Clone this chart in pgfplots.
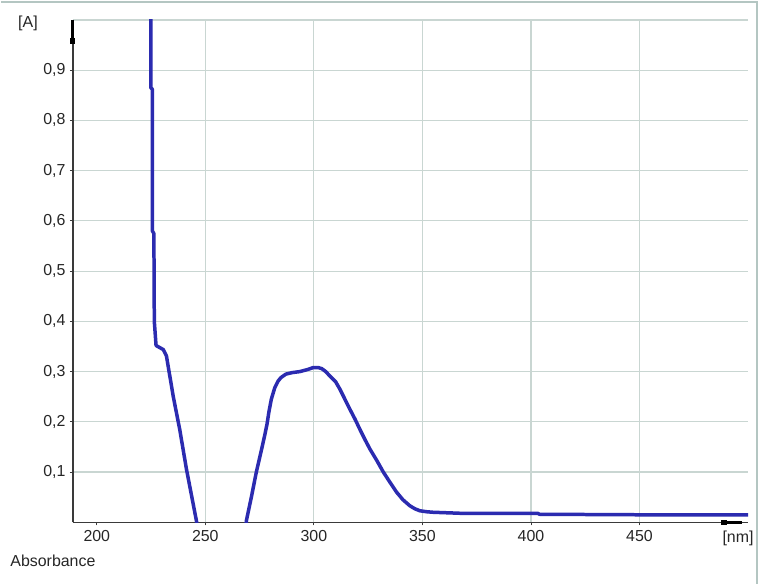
\documentclass[border=0pt]{standalone}
\usepackage{pgfplots}
\pgfplotsset{compat=1.18}
\usepackage{fontspec}
\setmainfont{Liberation Sans}
\usetikzlibrary{arrows.meta}
\definecolor{gridc}{HTML}{C9D6D2}
\definecolor{curve}{HTML}{2B2BB0}
\definecolor{framec}{HTML}{B4C6C2}
\definecolor{axc}{HTML}{3A3A3A}
\begin{document}
\begin{tikzpicture}[x=1bp,y=1bp]
\path (0,0) rectangle (761,585);
\fill[white] (0,0) rectangle (761,585);
\draw[framec, line width=2bp] (0,583) -- (757,583) -- (757,0);
\begin{axis}[
  at={(72bp,62bp)}, anchor=origin,
  scale only axis, width=676bp, height=503bp,
  xmin=189, xmax=500, ymin=0, ymax=1.0,
  axis lines=left,
  axis line style={axc, line width=1.4bp, -},
  xtick={200,250,300,350,400,450},
  ytick={0.1,0.2,0.3,0.4,0.5,0.6,0.7,0.8,0.9},
  yticklabels={{0,1},{0,2},{0,3},{0,4},{0,5},{0,6},{0,7},{0,8},{0,9}},
  extra x ticks={250,300,350,400,450},
  extra x tick labels={},
  extra x tick style={xmajorgrids=true, major tick length=0pt},
  extra y ticks={1.0},
  extra y tick labels={},
  extra y tick style={ymajorgrids=true, major tick length=0pt},
  ymajorgrids=true,
  major grid style={gridc, line width=1.2bp},
  tick style={axc, line width=0.8bp},
  tick align=outside, major tick length=3bp,
  /pgf/number format/assume math mode=true,
  ticklabel style={font=\fontsize{16}{19}\selectfont, text=black!85},
  yticklabel style={xshift=-1bp},
  xticklabel style={yshift=-2bp},
  clip=true,
]
\addplot[curve, line width=3.5bp, line join=round] coordinates {
(224.9,1.10) (224.9,0.865) (225.6,0.862) (225.6,0.58) (226.3,0.575)
(226.5,0.40) (227.3,0.352) (228.5,0.349) (230.6,0.344) (232.1,0.331)
(235.2,0.251) (238.2,0.185) (241.3,0.106) (245.9,0.003)
(247.0,-0.03) (268.3,-0.03)
(268.9,0.003) (271.2,0.05) (273.5,0.10) (275.9,0.145) (277.3,0.172)
(278.4,0.195) (279.3,0.220) (280.4,0.245) (282.0,0.268) (283.5,0.281)
(284.8,0.288) (287.1,0.295) (290.0,0.298)
(293.5,0.300) (297.0,0.304) (299.7,0.308) (302.0,0.308) (303.6,0.306)
(305.5,0.300) (307.4,0.291) (310.0,0.280) (312.0,0.265) (314.3,0.245)
(316.6,0.225) (319.0,0.205) (321.2,0.185) (323.5,0.165) (325.8,0.146)
(329.0,0.123) (332.0,0.100) (335.0,0.080) (338.1,0.060) (341.0,0.045)
(344.2,0.033) (346.5,0.027) (348.8,0.023) (352.0,0.021) (354.9,0.020)
(367.3,0.018) (385.0,0.018) (403.0,0.018) (404.0,0.016) (450.0,0.015)
(500.0,0.015)
};
\end{axis}
% axis end markers
\draw[black, line width=3bp] (72,565) -- (72,545);
\fill[black] (69.5,541) rectangle (74.5,547);
\draw[black, line width=3bp] (742,62) -- (725,62);
\fill[black] (721,59.5) rectangle (727,64.5);
\node[font=\fontsize{16}{19}\selectfont, text=black!85] at (27,562) {[A]};
\node[font=\fontsize{16}{19}\selectfont, text=black!85] at (738,46) {[nm]};
\node[font=\fontsize{16}{19}\selectfont, text=black!85] at (52,23) {Absorbance};
\end{tikzpicture}
\end{document}
